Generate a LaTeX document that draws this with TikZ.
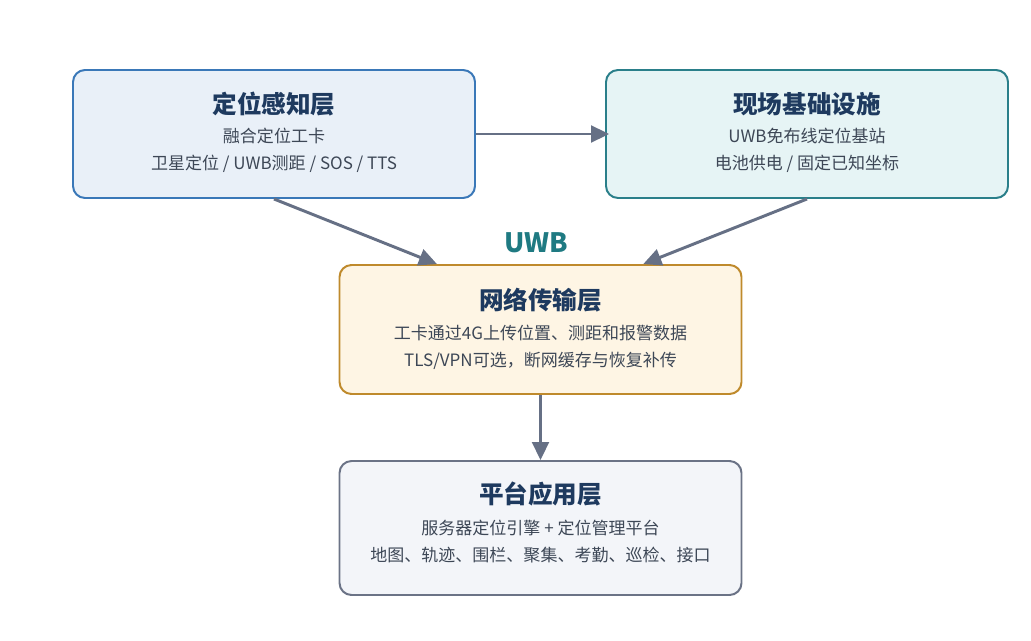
\documentclass[tikz,border=0pt]{standalone}
\usepackage{fontspec}
\setmainfont{Noto Sans CJK SC}
\usetikzlibrary{arrows.meta}

\definecolor{titlecol}{HTML}{1E3A5F}
\definecolor{bodycol}{HTML}{3D4756}
\definecolor{flowcol}{HTML}{667085}
\definecolor{uwbcol}{HTML}{1F7A82}
\definecolor{perceptfill}{HTML}{E9F0F8}
\definecolor{perceptline}{HTML}{3A78B8}
\definecolor{sitefill}{HTML}{E6F4F5}
\definecolor{siteline}{HTML}{2A7F8A}
\definecolor{netfill}{HTML}{FEF5E4}
\definecolor{netline}{HTML}{BF8A2C}
\definecolor{platfill}{HTML}{F3F5F9}
\definecolor{platline}{HTML}{6B7386}

\begin{document}
\begin{tikzpicture}[
	% Define the styles for the layers
	layer/.style={rectangle, rounded corners=0.3cm, line width=1.4pt, minimum width=10.05cm, minimum height=3.2cm},
	layertitle/.style={font=\bfseries\fontsize{17.5}{20}\selectfont, text=titlecol},
	layerbody/.style={font=\fontsize{12.1}{19.4}\selectfont, text=bodycol, align=center},
	flow/.style={draw=flowcol, line width=2.1pt, -{Triangle[length=0.45cm, width=0.42cm]}}
	]
	
	\useasboundingbox (0,0) rectangle (25.775,-16.025);
	
	% --- LAYERS ---
	% Format: \node (internal_name) at (x,y) [fill=color, draw=color] {};
	
	\node (percept) at (6.85, -3.35) [layer, fill=perceptfill, draw=perceptline] {};
	\node (site) at (20.175, -3.35) [layer, fill=sitefill, draw=siteline] {};
	\node (net) at (13.5125, -8.2375) [layer, fill=netfill, draw=netline, minimum height=3.225cm] {};
	\node (plat) at (13.5125, -13.2) [layer, fill=platfill, draw=platline, minimum height=3.35cm] {};
	
	% --- TEXTS ---
	\node (perceptT) at ([yshift=-0.87cm]percept.north) [layertitle] {定位感知层};
	\node (perceptB) at ([yshift=-2.04cm]percept.north) [layerbody] {融合定位工卡\\卫星定位 / UWB测距 / SOS / TTS};
	
	\node (siteT) at ([yshift=-0.87cm]site.north) [layertitle] {现场基础设施};
	\node (siteB) at ([yshift=-2.04cm]site.north) [layerbody] {UWB免布线定位基站\\电池供电 / 固定已知坐标};
	
	\node (netT) at ([yshift=-0.9cm]net.north) [layertitle] {网络传输层};
	\node (netB) at ([yshift=-2.08cm]net.north) [layerbody] {工卡通过4G上传位置、测距和报警数据\\TLS/VPN可选，断网缓存与恢复补传};
	
	\node (platT) at ([yshift=-0.85cm]plat.north) [layertitle] {平台应用层};
	\node (platB) at ([yshift=-2.04cm]plat.north) [layerbody] {服务器定位引擎 + 定位管理平台\\地图、轨迹、围栏、聚集、考勤、巡检、接口};
	
	\node (uwb) at (13.4, -6.08) [font=\bfseries\fontsize{19}{22}\selectfont, text=uwbcol] {UWB};
	
	% --- CONNECTORS ---
	\draw[flow] (percept.east) -- ([xshift=0.1cm]site.west); % UWB link
	\draw[flow] (percept.south) -- ([xshift=-2.59cm]net.north); % Left down
	\draw[flow] (site.south) -- ([xshift=2.57cm]net.north); % Right down
	\draw[flow] (net.south) -- (plat.north); % To platform
	
\end{tikzpicture}
\end{document}
